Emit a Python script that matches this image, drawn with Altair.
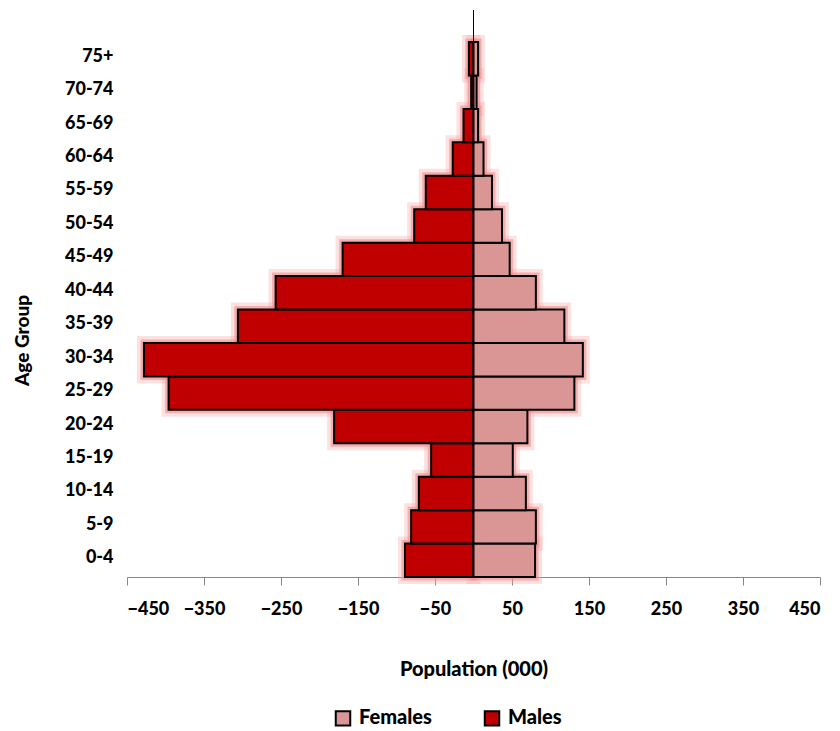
import altair as alt
import pandas as pd

ages = ["0-4", "5-9", "10-14", "15-19", "20-24", "25-29", "30-34", "35-39",
        "40-44", "45-49", "50-54", "55-59", "60-64", "65-69", "70-74", "75+"]
males = [-89, -81, -71, -55, -181, -396, -428, -306, -257, -170, -77, -62, -27, -13, -3, -6]
females = [80, 81, 68, 51, 70, 131, 142, 118, 81, 47, 37, 24, 13, 6, 4, 6]
x_ticks = [-450, -350, -250, -150, -50, 50, 150, 250, 350, 450]

rows = []
for a, m, f in zip(ages, males, females):
    rows.append({"age": a, "sex": "Males", "value": m})
    rows.append({"age": a, "sex": "Females", "value": f})
df = pd.DataFrame(rows)

FONT = "Lato"
W = 900
order = list(reversed(ages))

x_enc = alt.X("value:Q",
              scale=alt.Scale(domain=[-450, 450], nice=False, zero=False),
              axis=alt.Axis(values=x_ticks, title="Population (000)", grid=False,
                            domainColor="#868686", tickColor="#868686", tickSize=8,
                            labelPadding=15, labelFontSize=18, labelFontWeight=W,
                            labelFont=FONT, labelColor="black",
                            titleFont=FONT, titleFontSize=20, titleFontWeight=W,
                            titleColor="black", titleY=92, titleBaseline="middle"))
y_enc = alt.Y("age:N", sort=order,
              scale=alt.Scale(paddingInner=0, paddingOuter=0),
              axis=alt.Axis(title="Age Group", domain=False, ticks=False,
                            labelPadding=14, labelFontSize=18, labelFontWeight=W,
                            labelFont=FONT, labelColor="black", labelBaseline="middle",
                            labelOffset=-2,
                            titleFont=FONT, titleFontSize=19, titleFontWeight=W,
                            titleColor="black", titleX=-105, titleY=298,
                            titleAngle=-90, titleAlign="center", titleBaseline="middle"))
color_enc = alt.Color("sex:N",
                      scale=alt.Scale(domain=["Females", "Males"], range=["#DA9694", "#C00000"]),
                      legend=alt.Legend(title=None, orient="none", direction="horizontal",
                                        legendX=206, legendY=666, symbolType="square",
                                        symbolSize=210, symbolStrokeColor="black",
                                        symbolStrokeWidth=2, symbolOpacity=1,
                                        labelFont=FONT, labelFontSize=20,
                                        labelFontWeight=W, labelColor="black",
                                        columnPadding=48, labelOffset=6))

base = alt.Chart(df)
glow1 = base.mark_bar(stroke="#F7A8A8", strokeWidth=14, strokeOpacity=0.35, fillOpacity=0).encode(
    x=x_enc, x2=alt.datum(0), y=y_enc)
glow2 = base.mark_bar(stroke="#F28C8C", strokeWidth=7, strokeOpacity=0.6, fillOpacity=0).encode(
    x=x_enc, x2=alt.datum(0), y=y_enc)
bars = base.mark_bar(stroke="black", strokeWidth=2, opacity=1).encode(
    x=x_enc, x2=alt.datum(0), y=y_enc, color=color_enc)
zero_line = alt.Chart(pd.DataFrame({"v": [0]})).mark_rule(color="black", strokeWidth=1).encode(
    x=alt.X("v:Q"), y=alt.value(-32), y2=alt.value(535))

chart = alt.layer(glow1, glow2, bars, zero_line).properties(
    width=693, height=535,
    autosize=alt.AutoSizeParams(type="none"),
    padding={"left": 119, "top": 34, "right": 12, "bottom": 150},
).configure_view(stroke=None)

chart.save("out.html", embed_options={"renderer": "svg", "actions": False})
